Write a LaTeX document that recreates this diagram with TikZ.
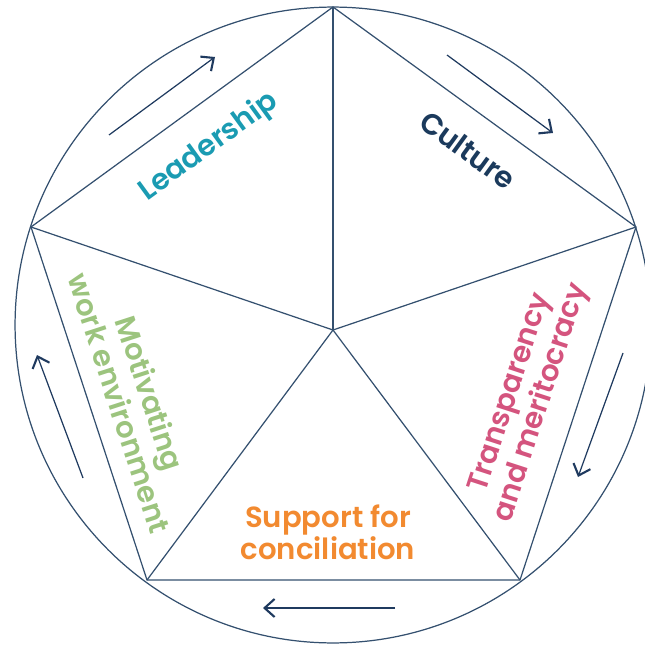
\documentclass[tikz,border=0pt]{standalone}
\usepackage{fontspec}
\setmainfont{Poppins SemiBold}
\usetikzlibrary{arrows.meta}
\definecolor{edgeblue}{HTML}{34506F}
\definecolor{arrowblue}{HTML}{1F3A5F}
\definecolor{leadteal}{HTML}{1A9BB2}
\definecolor{culturenavy}{HTML}{1B3A5C}
\definecolor{transpink}{HTML}{D4547E}
\definecolor{supportorange}{HTML}{F28A30}
\definecolor{motivgreen}{HTML}{9CC47E}
\tikzset{
  frame/.style={edgeblue,line width=0.7pt},
  flow/.style={arrowblue,line width=0.7pt,-{Straight Barb[length=0.2cm,width=0.36cm,line width=1.2pt]}},
  label/.style={align=center,font=\fontsize{16.6}{18.4}\selectfont}
}
\begin{document}
\begin{tikzpicture}[x=0.02cm,y=-0.02cm]
  \useasboundingbox (0,0) rectangle (645,645);
  \clip (0,0) rectangle (645,645);
  % pentagon corners and hub
  \coordinate (top) at (333,7);
  \coordinate (right) at (636,227);
  \coordinate (botright) at (520,580);
  \coordinate (botleft) at (147,580);
  \coordinate (left) at (31,227);
  \coordinate (hub) at (333,330);
  \draw[frame] (333,325) circle[radius=6.36cm];
  \draw[frame] (top) -- (right) -- (botright) -- (botleft) -- (left) -- cycle;
  \foreach \v in {top,right,botright,botleft,left}
    \draw[frame] (hub) -- (\v);
  % clockwise arrows
  \coordinate (a1) at (109,135); \coordinate (b1) at (215,57);
  \coordinate (a2) at (447,55);  \coordinate (b2) at (553,133);
  \coordinate (a3) at (623,353); \coordinate (b3) at (578,477);
  \coordinate (a4) at (395,608); \coordinate (b4) at (263,608);
  \coordinate (a5) at (83,478);  \coordinate (b5) at (37,355);
  \foreach \i in {1,...,5}
    \draw[flow] (a\i) -- (b\i);
  % labels
  \node[label,leadteal,rotate=36] (leadership) at (209,147) {Leadership};
  \node[label,culturenavy,rotate=-36] (culture) at (468,150) {Culture};
  \node[label,transpink,rotate=72] (transparency) at (527,398) {Transparency\\and meritocracy};
  \node[label,supportorange] (support) at (328,532) {Support for\\conciliation};
  \node[label,motivgreen,rotate=-72] (motivating) at (135,398) {Motivating\\work environment};
\end{tikzpicture}
\end{document}
